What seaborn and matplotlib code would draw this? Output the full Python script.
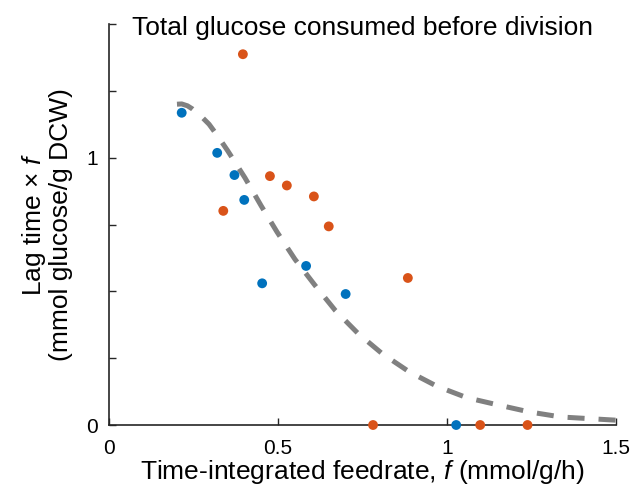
import numpy as np
import pandas as pd
import matplotlib
matplotlib.use('Agg')
import matplotlib.pyplot as plt
import seaborn as sns

# data
orange_x = [0.396, 0.338, 0.476, 0.526, 0.606, 0.650, 0.884, 0.781, 1.098, 1.238]
orange_y = [1.387, 0.801, 0.931, 0.896, 0.855, 0.743, 0.550, 0.0, 0.0, 0.0]
blue_x = [0.215, 0.320, 0.371, 0.400, 0.453, 0.583, 0.700, 1.027]
blue_y = [1.168, 1.018, 0.935, 0.842, 0.530, 0.595, 0.490, 0.0]

# fitted curve, read point by point
fit_x = [0.201, 0.215, 0.232, 0.247, 0.270, 0.296, 0.322, 0.351, 0.402, 0.450,
         0.497, 0.550, 0.609, 0.669, 0.737, 0.808, 0.888, 0.970, 1.059, 1.151,
         1.243, 1.337, 1.432, 1.50]
fit_y = [1.200, 1.201, 1.194, 1.182, 1.158, 1.125, 1.080, 1.026, 0.925, 0.820,
         0.722, 0.620, 0.523, 0.429, 0.342, 0.267, 0.199, 0.145, 0.102, 0.075,
         0.049, 0.030, 0.023, 0.018]

sns.set_style('ticks')
plt.rcParams['font.family'] = ['Liberation Sans', 'DejaVu Sans']
plt.rcParams['mathtext.fontset'] = 'custom'
plt.rcParams['mathtext.it'] = 'Liberation Sans:italic'
plt.rcParams['mathtext.rm'] = 'Liberation Sans'
plt.rcParams['text.color'] = 'black'
plt.rcParams['axes.labelcolor'] = 'black'

fig = plt.figure(figsize=(6.35, 4.87), dpi=100)
ax = fig.add_axes([0.1717, 0.1273, 0.7985, 0.8234])

sns.lineplot(x=fit_x, y=fit_y, ax=ax, color='#808080', lw=3.6,
             linestyle=(0, (3.4, 2.8)), sort=True, clip_on=False)
sns.scatterplot(x=blue_x, y=blue_y, ax=ax, color='#0072BD', s=50,
                edgecolor='none', clip_on=False, zorder=3)
sns.scatterplot(x=orange_x, y=orange_y, ax=ax, color='#D95319', s=50,
                edgecolor='none', clip_on=False, zorder=3)

ax.set_xlim(0, 1.5)
ax.set_ylim(0, 1.5)
ax.set_xticks([0, 0.5, 1, 1.5])
ax.set_xticklabels(['0', '0.5', '1', '1.5'])
ax.set_yticks([0, 0.25, 0.5, 0.75, 1, 1.25, 1.5])
ax.set_yticklabels(['0', '', '', '', '1', '', ''])
ax.tick_params(direction='in', length=5, width=1, labelsize=15, colors='#262626',
               labelcolor='black', pad=10)
ax.tick_params(axis='y', pad=8)
sns.despine(ax=ax)
for s in ['left', 'bottom']:
    ax.spines[s].set_linewidth(1.2)
    ax.spines[s].set_color('#262626')

ax.set_xlabel('Time-integrated feedrate, $f$ (mmol/g/h)', fontsize=19, labelpad=0)
ax.set_ylabel('Lag time × $f$\n(mmol glucose/g DCW)', fontsize=19, linespacing=1.05)
ax.yaxis.set_label_coords(-0.072, 0.5)
ax.set_title('Total glucose consumed before division', fontsize=19, y=0.970, va='center')

fig.savefig('out.png', dpi=100)
